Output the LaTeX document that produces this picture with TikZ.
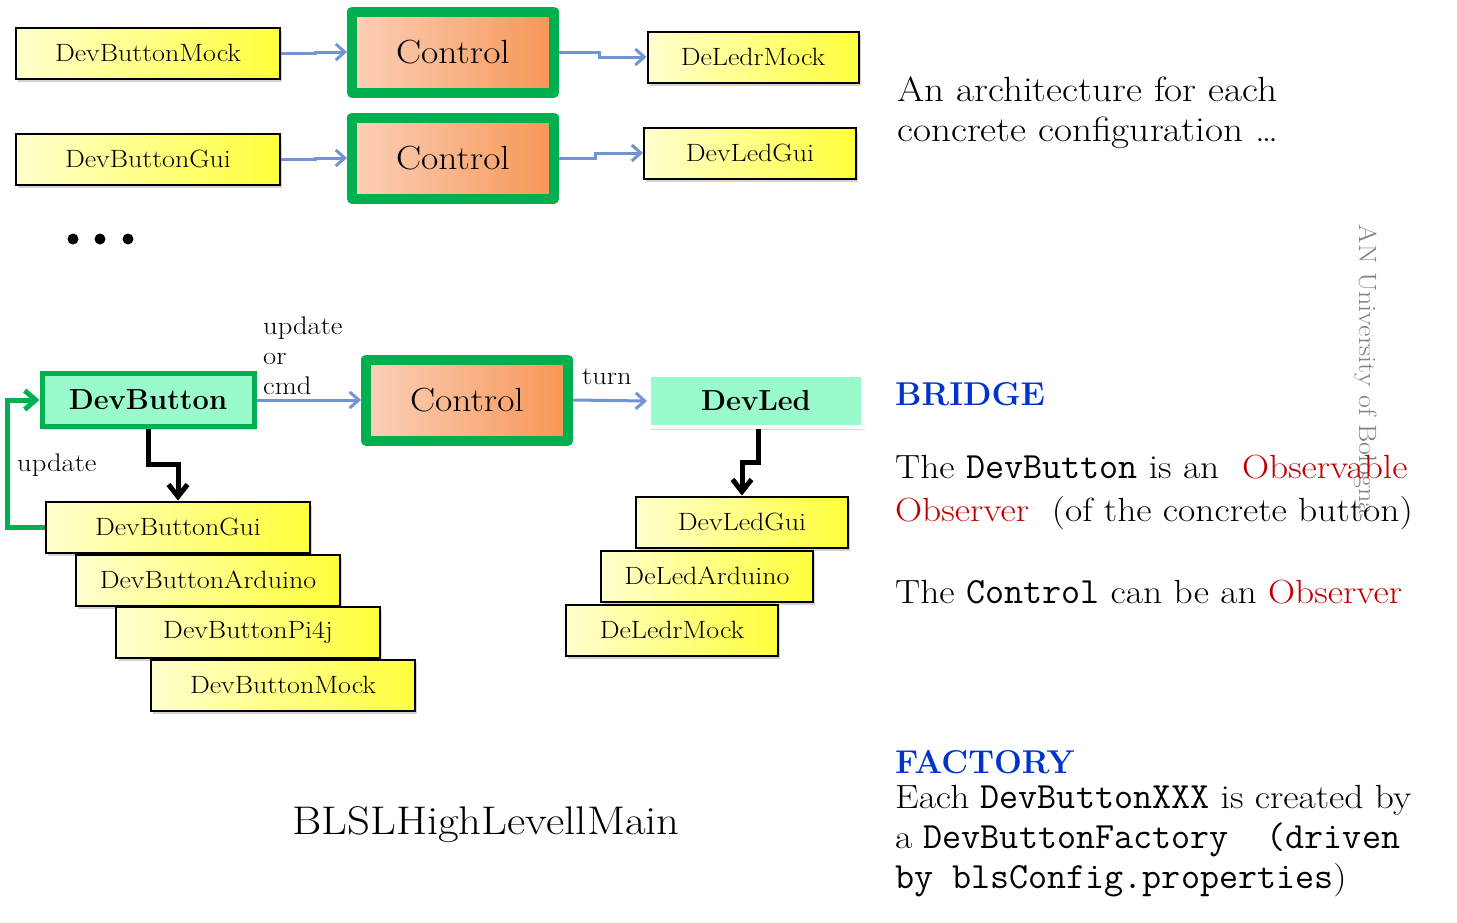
\documentclass[tikz,border=0pt]{standalone}
\usepackage{fontspec}
\setmainfont{Latin Modern Roman}[FakeStretch=1.12]
\newfontfamily\plainrm{Latin Modern Roman}
\usepackage{tikz}
\usetikzlibrary{arrows.meta,shadows}

\definecolor{ctrlgreen}{RGB}{0,176,80}
\definecolor{mint}{RGB}{153,250,204}
\definecolor{flowblue}{RGB}{114,148,212}
\definecolor{yelL}{RGB}{255,255,206}
\definecolor{yelR}{RGB}{255,255,60}
\definecolor{orgL}{RGB}{251,208,185}
\definecolor{orgR}{RGB}{247,150,85}
\definecolor{headblue}{RGB}{0,51,204}
\definecolor{obsred}{RGB}{192,0,0}

\begin{document}
\begin{tikzpicture}[x=1pt,y=-1pt]
    \newcommand{\fsz}[2]{\fontsize{#1}{#2}\selectfont}
    \newcommand{\code}[1]{\texttt{\fsz{37}{40}#1}}

    \tikzstyle{flow}  = [line width=3pt,draw=flowblue,-{Straight Barb[length=9pt,width=16pt]}]
    \tikzstyle{impl}  = [line width=5pt,draw=black,-{Straight Barb[length=12pt,width=19pt]}]
    \tikzstyle{upd}   = [line width=5pt,draw=ctrlgreen,-{Straight Barb[length=11pt,width=19pt]}]
    \tikzstyle{dev}=[
      rectangle,
      draw=black,
      line width=2pt,
      left color=yelL,
      right color=yelR,
      minimum width=264pt,
      minimum height=51pt,
      inner sep=0pt,
      drop shadow={shadow xshift=2pt,shadow yshift=-3pt,opacity=0.35},
      font=\fsz{25}{30},
    ]
    \tikzstyle{ctrl}=[
      rectangle,
      draw=ctrlgreen,
      line width=10pt,
      line join=round,
      left color=orgL,
      right color=orgR,
      minimum width=202pt,
      minimum height=81pt,
      inner sep=0pt,
      drop shadow={shadow xshift=2pt,shadow yshift=-3pt,opacity=0.3},
      font=\fsz{33.5}{40},
    ]
    \tikzstyle{abstr}=[
      rectangle,
      fill=mint,
      line width=5pt,
      minimum width=212pt,
      minimum height=53pt,
      inner sep=0pt,
      drop shadow={shadow xshift=2pt,shadow yshift=-3pt,opacity=0.3},
      font=\plainrm\fsz{29}{34}\bfseries,
    ]
    \tikzstyle{lbl}=[anchor=west,inner sep=0pt,font=\fsz{25.5}{30},align=left]
    \tikzstyle{txt}=[anchor=west,inner sep=0pt,font=\fsz{33.5}{40},align=left]
    \tikzstyle{head}=[anchor=west,inner sep=0pt,font=\plainrm\fsz{33}{40}\bfseries,text=headblue]

    \useasboundingbox (0,0) rectangle (1457,922);

    % watermark
    \node[rotate=-90,text=gray,font=\fsz{25}{28}] (wm) at (1366,370) {AN University of Bologna};

    % one architecture per configuration
    \node[dev] (bm1) at (148,53) {DevButtonMock};
    \node[ctrl] (c1) at (453,52) {Control};
    \node[dev,minimum width=211pt] (lm1) at (753,57) {DeLedrMock};
    \node[dev] (bg1) at (148,159) {DevButtonGui};
    \node[ctrl] (c2) at (453,158) {Control};
    \node[dev,minimum width=212pt] (lg1) at (750,153) {DevLedGui};

    \draw[flow] (bm1.east) -- ++(34,0) |- (c1.west);
    \draw[flow] (c1.east) -- ++(40,0) |- (lm1.west);
    \draw[flow] (bg1.east) -- ++(34,0) |- (c2.west);
    \draw[flow] (c2.east) -- ++(36,0) |- (lg1.west);

    \fill (73,239) circle (5.5) (100,239) circle (5.5) (128,239) circle (5.5);

    \node[txt,font=\fsz{35}{40}] (arch) at (897,113) {An architecture for each\\concrete configuration \ldots};

    % bridge
    \node[abstr,draw=ctrlgreen] (btn) at (148,400) {DevButton};
    \node[ctrl] (c3) at (467,400) {Control};
    \node[abstr,draw=white,line width=4pt,minimum width=214pt,minimum height=52pt] (led) at (756,401) {DevLed};

    \node[dev] (bg) at (178,527) {DevButtonGui};
    \node[dev] (ba) at (208,580) {DevButtonArduino};
    \node[dev] (bp) at (248,632) {DevButtonPi4j};
    \node[dev] (bm) at (283,685) {DevButtonMock};

    \node[dev,minimum width=212pt] (lg) at (742,522) {DevLedGui};
    \node[dev,minimum width=212pt] (la) at (707,576) {DeLedArduino};
    \node[dev,minimum width=212pt] (lm) at (672,630) {DeLedrMock};

    \draw[flow] (btn.east) -- (c3.west);
    \draw[flow] (c3.east) -- (led.west);
    \draw[impl] (btn.south) -- ++(0,35) -| (bg.north);
    \draw[impl] ([xshift=2pt]led.south) -- ++(0,33) -| (lg.north);
    \draw[upd] (bg.west) -- ++(-38,0) |- (btn.west);

    \node[lbl] (uoc) at (263,356) {update\\or\\cmd};
    \node[lbl] (turn) at (582,377) {turn};
    \node[lbl] (up) at (17,465) {update};

    \node[font=\fsz{40}{46}] (main) at (486,825) {BLSLHighLevellMain};

    % right side notes
    \node[head] (bridge) at (895,394) {BRIDGE};
    \node[txt,font=\fsz{33.5}{43}] (obs) at (895,492) {The \code{DevButton} is an\ \ \textcolor{obsred}{Observable}\\\textcolor{obsred}{Observer}\ \ (of the concrete button)};
    \node[txt] (ctl) at (895,592) {The \code{Control} can be an \textcolor{obsred}{Observer}};

    \node[head] (fact) at (895,762) {FACTORY};
    \node[txt] (each) at (895,841) {Each \code{DevButtonXXX} is created by\\a \code{DevButtonFactory\ \ (driven}\\\code{by blsConfig.properties})};
\end{tikzpicture}
\end{document}
